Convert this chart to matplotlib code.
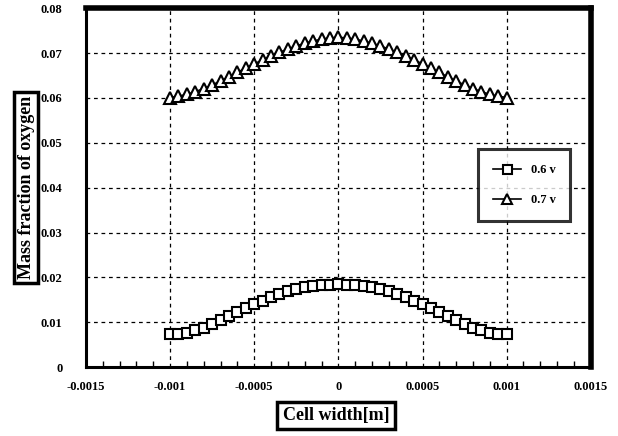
import numpy as np
import matplotlib.pyplot as plt
from matplotlib.ticker import MultipleLocator

plt.rcParams['font.family'] = ['Liberation Serif', 'DejaVu Serif']
plt.rcParams['font.weight'] = 'bold'

# Cell width positions [m]
cell_width = [-0.001, -0.00095, -0.0009, -0.00085, -0.0008, -0.00075, -0.0007,
              -0.00065, -0.0006, -0.00055, -0.0005, -0.00045, -0.0004, -0.00035,
              -0.0003, -0.00025, -0.0002, -0.00015, -0.0001, -0.00005, 0.0,
              0.00005, 0.0001, 0.00015, 0.0002, 0.00025, 0.0003, 0.00035, 0.0004,
              0.00045, 0.0005, 0.00055, 0.0006, 0.00065, 0.0007, 0.00075, 0.0008,
              0.00085, 0.0009, 0.00095, 0.001]

# Oxygen mass fraction at 0.6 V
o2_06v = [0.0073, 0.0074, 0.0077, 0.0082, 0.0088, 0.0096, 0.0104, 0.0113, 0.0122,
          0.0131, 0.0140, 0.0148, 0.0156, 0.0163, 0.0169, 0.0174, 0.0178, 0.0181,
          0.0183, 0.0184, 0.0185, 0.0184, 0.0183, 0.0181, 0.0178, 0.0174, 0.0169,
          0.0163, 0.0156, 0.0148, 0.0140, 0.0131, 0.0122, 0.0113, 0.0104, 0.0096,
          0.0088, 0.0082, 0.0077, 0.0074, 0.0073]

# Oxygen mass fraction at 0.7 V
o2_07v = [0.0601, 0.0604, 0.0608, 0.0614, 0.0621, 0.0629, 0.0638, 0.0647, 0.0657,
          0.0667, 0.0676, 0.0685, 0.0694, 0.0702, 0.0709, 0.0716, 0.0722, 0.0727,
          0.0731, 0.0734, 0.0735, 0.0734, 0.0731, 0.0727, 0.0722, 0.0716, 0.0709,
          0.0702, 0.0694, 0.0685, 0.0676, 0.0667, 0.0657, 0.0647, 0.0638, 0.0629,
          0.0621, 0.0614, 0.0608, 0.0604, 0.0601]

fig = plt.figure(figsize=(6.18, 4.36), dpi=100)
ax = fig.add_axes([0.139, 0.158, 0.817, 0.823])

ax.plot(cell_width, o2_06v, color='black', lw=1.2, marker='s', ms=7.2,
        mfc='white', mec='black', mew=1.5, label='0.6 v')
ax.plot(cell_width, o2_07v, color='black', lw=1.2, marker='^', ms=8,
        mfc='white', mec='black', mew=1.5, label='0.7 v')

ax.set_xlim(-0.0015, 0.0015)
ax.set_ylim(0, 0.08)
ax.xaxis.set_minor_locator(MultipleLocator(0.0001))
ax.set_xticks([-0.0015, -0.001, -0.0005, 0, 0.0005, 0.001, 0.0015])
ax.set_xticklabels(['-0.0015', '-0.001', '-0.0005', '0', '0.0005', '0.001', '0.0015'])
ax.set_yticks([0, 0.01, 0.02, 0.03, 0.04, 0.05, 0.06, 0.07, 0.08])
ax.set_yticklabels(['0', '0.01', '0.02', '0.03', '0.04', '0.05', '0.06', '0.07', '0.08'])

ax.grid(True, which='major', color='black', ls=(0, (3, 3)), lw=0.9)
ax.tick_params(axis='both', which='major', length=0, labelsize=9)
ax.tick_params(axis='x', which='major', pad=10)
ax.tick_params(axis='y', which='major', pad=17)
ax.tick_params(axis='x', which='minor', direction='in', length=4, width=1)

for side in ['left', 'bottom']:
    ax.spines[side].set_linewidth(2.2)
for side in ['top', 'right']:
    ax.spines[side].set_linewidth(4)

ax.set_xlabel('Cell width[m]', fontsize=13, fontweight='bold',
              bbox=dict(boxstyle='square,pad=0.3', fc='white', ec='black', lw=2.5))
ax.set_ylabel('Mass fraction of oxygen', fontsize=13, fontweight='bold',
              bbox=dict(boxstyle='square,pad=0.2', fc='white', ec='black', lw=2.5))
ax.xaxis.set_label_coords(0.495, -0.135)
ax.yaxis.set_label_coords(-0.118, 0.5)
ax.xaxis.label.set_va('center')
ax.yaxis.label.set_va('center')

leg = ax.legend(loc='center right', bbox_to_anchor=(0.972, 0.507), fontsize=9,
                frameon=True, fancybox=False, handlelength=2.2, borderpad=1.2,
                labelspacing=1.4, markerscale=0.9)
leg.get_frame().set_edgecolor('black')
leg.get_frame().set_linewidth(2.2)

fig.savefig('out.png', dpi=100)
